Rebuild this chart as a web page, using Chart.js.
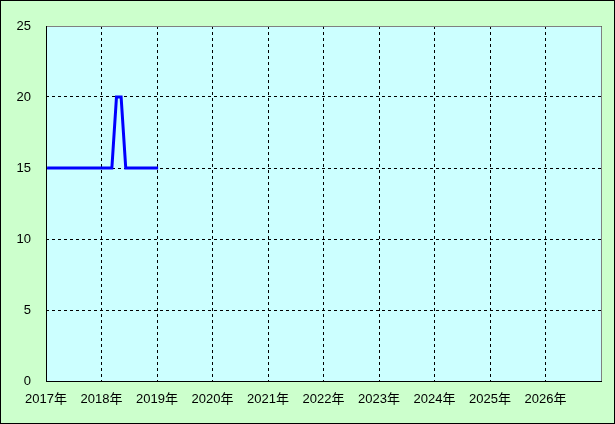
<!DOCTYPE html>
<html>
<head>
<meta charset="utf-8">
<script src="https://cdn.jsdelivr.net/npm/chart.js@4/dist/chart.umd.min.js"></script>
<style>
    body { margin: 0; background: #fff; }
    canvas { display: block; }
</style>
</head>
<body>
<canvas id="chart" width="615" height="424"></canvas>
<script>
// 月次データ（2017年1月〜2019年1月）
const months = [
    '2017-01', '2017-02', '2017-03', '2017-04', '2017-05', '2017-06',
    '2017-07', '2017-08', '2017-09', '2017-10', '2017-11', '2017-12',
    '2018-01', '2018-02', '2018-03', '2018-04', '2018-05', '2018-06',
    '2018-07', '2018-08', '2018-09', '2018-10', '2018-11', '2018-12',
    '2019-01'
];
const values = [
    15, 15, 15, 15, 15, 15, 15, 15, 15, 15, 15, 15,
    15, 15, 15, 20, 20, 15, 15, 15, 15, 15, 15, 15,
    15
];
const yearMin = 2017;
const yearMax = 2027;
const yTicks = [0, 5, 10, 15, 20, 25];

// 年の小数値に変換
const points = months.map((m, i) => {
    const [y, mo] = m.split('-').map(Number);
    return { x: y + (mo - 1) / 12 + 0.02, y: values[i] };
});

// 背景と枠線
const framePlugin = {
    id: 'frame',
    beforeDraw(chart) {
        const ctx = chart.ctx;
        const a = chart.chartArea;
        ctx.save();
        ctx.fillStyle = '#ccffcc';
        ctx.fillRect(0, 0, chart.width, chart.height);
        ctx.strokeStyle = '#000';
        ctx.lineWidth = 1;
        ctx.strokeRect(0.5, 0.5, chart.width - 1, chart.height - 1);
        ctx.fillStyle = '#ccffff';
        ctx.fillRect(a.left, a.top, a.right - a.left, a.bottom - a.top);
        ctx.restore();
    },
    afterDatasetsDraw(chart) {
        const ctx = chart.ctx;
        const a = chart.chartArea;
        ctx.save();
        ctx.lineWidth = 1;
        ctx.strokeStyle = '#808080';
        ctx.beginPath();
        ctx.moveTo(a.left, a.top + 0.5);
        ctx.lineTo(a.right + 0.5, a.top + 0.5);
        ctx.lineTo(a.right + 0.5, a.bottom);
        ctx.stroke();
        ctx.strokeStyle = '#000';
        ctx.beginPath();
        ctx.moveTo(a.left + 0.5, a.top);
        ctx.lineTo(a.left + 0.5, a.bottom + 0.5);
        ctx.lineTo(a.right + 1, a.bottom + 0.5);
        ctx.stroke();
        ctx.restore();
    }
};

const font = { family: '"Liberation Sans", "Noto Sans CJK JP", sans-serif', size: 13 };

new Chart(document.getElementById('chart'), {
    type: 'line',
    data: {
        datasets: [{
            data: points,
            borderColor: '#0000ff',
            borderWidth: 3,
            pointRadius: 0,
            tension: 0,
            fill: false
        }]
    },
    plugins: [framePlugin],
    options: {
        responsive: false,
        animation: false,
        layout: { padding: { left: 0, top: 26, right: 14, bottom: 0 } },
        plugins: {
            legend: { display: false },
            tooltip: { enabled: false }
        },
        scales: {
            x: {
                type: 'linear',
                min: yearMin,
                max: yearMax,
                afterFit: s => { s.height = 43; },
                afterBuildTicks: s => {
                    s.ticks = [];
                    for (let y = yearMin; y <= yearMax; y++) s.ticks.push({ value: y });
                },
                ticks: {
                    color: '#000',
                    font: font,
                    padding: 11,
                    maxRotation: 0,
                    autoSkip: false,
                    callback: v => (v < yearMax ? v + '年' : '')
                },
                grid: {
                    color: '#000',
                    drawTicks: false
                },
                border: { display: false, dash: [3, 3] }
            },
            y: {
                min: 0,
                max: 25,
                afterFit: s => { s.width = 46; },
                afterBuildTicks: s => { s.ticks = yTicks.map(v => ({ value: v })); },
                ticks: {
                    color: '#000',
                    font: font,
                    padding: 15
                },
                grid: {
                    color: '#000',
                    drawTicks: false
                },
                border: { display: false, dash: [3, 3] }
            }
        }
    }
});
</script>
</body>
</html>
